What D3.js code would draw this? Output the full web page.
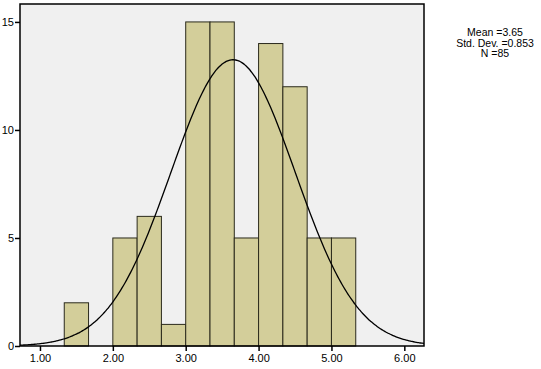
<!DOCTYPE html>
<html><head><meta charset="utf-8">
<script src="https://cdn.jsdelivr.net/npm/d3@7"></script>
<style>
body{margin:0;background:#fff;}
svg text{font-family:"Liberation Sans",Arial,sans-serif;font-size:11px;fill:#000;}
</style></head>
<body><svg id="c" width="541" height="369"></svg>
<script>
// Data
const binStarts = [1.3333, 1.6667, 2.0, 2.3333, 2.6667, 3.0, 3.3333, 3.6667, 4.0, 4.3333, 4.6667, 5.0];
const counts    = [2, 0, 5, 6, 1, 15, 15, 5, 14, 12, 5, 5];
const binWidth = 1/3;
const xTicks = [1, 2, 3, 4, 5, 6];
const yTicks = [0, 5, 10, 15];
const statLabels = ["Mean =3.65", "Std. Dev. =0.853", "N =85"];
const mean = 3.65, sd = 0.853, n = 85;

const svg = d3.select("#c");
const L = 20, R = 424, T = 4, B = 346;
const x = d3.scaleLinear().domain([0.726, 6.27]).range([L, R]);
const y = d3.scaleLinear().domain([0, 15.83]).range([B, T]);

svg.append("rect").attr("x", L).attr("y", T).attr("width", R - L).attr("height", B - T)
  .attr("fill", "#f0f0f0");

svg.append("g").selectAll("rect").data(binStarts.map((s, i) => ({s, c: counts[i]})).filter(d => d.c > 0))
  .join("rect")
  .attr("x", d => x(d.s)).attr("width", d => x(d.s + binWidth) - x(d.s))
  .attr("y", d => y(d.c)).attr("height", d => y(0) - y(d.c))
  .attr("fill", "#d3ce9a").attr("stroke", "#2b2a1c").attr("stroke-width", 1);

// normal curve
const pts = d3.range(0.726, 6.27, 0.02).concat([6.27]).map(v => [v, n * binWidth * Math.exp(-0.5 * ((v - mean) / sd) ** 2) / (sd * Math.sqrt(2 * Math.PI))]);
svg.append("path").attr("d", d3.line().x(d => x(d[0])).y(d => y(d[1])).curve(d3.curveBasis)(pts))
  .attr("fill", "none").attr("stroke", "#000").attr("stroke-width", 1.3);

// frame
svg.append("rect").attr("x", L).attr("y", T).attr("width", R - L).attr("height", B - T)
  .attr("fill", "none").attr("stroke", "#000").attr("stroke-width", 1.5);

const xa = svg.append("g").attr("transform", `translate(0,${B})`)
  .call(d3.axisBottom(x).tickValues(xTicks).tickFormat(d3.format(".2f")).tickSize(5).tickPadding(3));
const ya = svg.append("g").attr("transform", `translate(${L},0)`)
  .call(d3.axisLeft(y).tickValues(yTicks).tickSize(5).tickPadding(1));
[xa, ya].forEach(a => {
  a.select(".domain").remove();
  a.selectAll("line").attr("stroke", "#000").attr("stroke-width", 1.5);
  a.selectAll("text").attr("fill", "#000").style("font-size", "11px");
});

svg.append("g").selectAll("text").data(statLabels).join("text")
  .attr("x", 495).attr("y", (d, i) => 36 + i * 10.5).attr("text-anchor", "middle")
  .style("font-size", "10.5px").text(d => d);
</script></body></html>
